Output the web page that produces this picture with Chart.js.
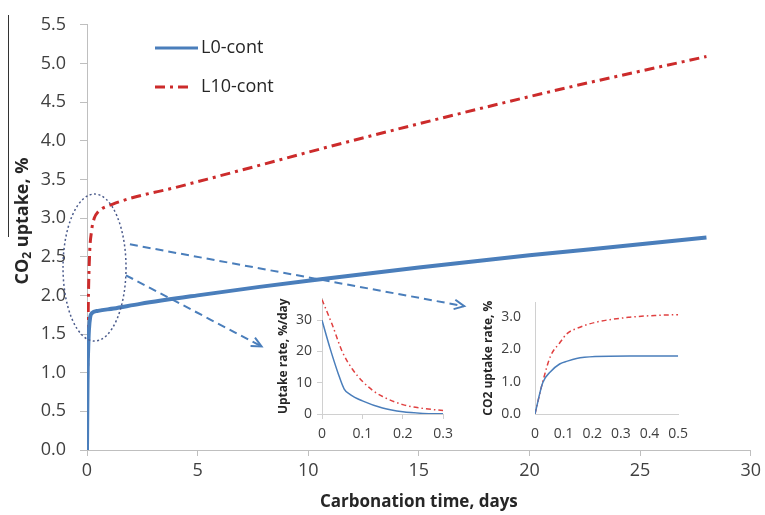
<!doctype html>
<html>
<head>
<meta charset="utf-8">
<title>CO2 uptake</title>
<script src="https://cdn.jsdelivr.net/npm/chart.js@4.4.0/dist/chart.umd.min.js"></script>
<style>
  body { margin: 0; background: #fff; }
  #wrap { position: relative; width: 765px; height: 515px; }
  #wrap canvas { position: absolute; }
</style>
</head>
<body>
<div id="wrap">
  <canvas id="main" width="765" height="515" style="left:0;top:0"></canvas>
  <canvas id="rate" width="190" height="160" style="left:270px;top:285px"></canvas>
  <canvas id="cum" width="230" height="165" style="left:470px;top:280px"></canvas>
</div>
<script>
// main chart - cumulative uptake over 28 days
var seriesNames = ['L0-cont', 'L10-cont'];
var daysL0   = [0, 0.027, 0.054, 0.086, 0.145, 0.22, 0.5, 1.2, 2.4, 5, 7.8, 10, 15, 20, 25, 28];
var uptakeL0 = [0, 0.97, 1.31, 1.55, 1.72, 1.77, 1.8, 1.83, 1.89, 2.0, 2.11, 2.19, 2.36, 2.52, 2.66, 2.75];
var daysL10   = [0, 0.027, 0.054, 0.113, 0.21, 0.33, 0.5, 1.17, 4.2, 7.5, 10.5, 15, 21.6, 28];
var uptakeL10 = [0, 1.0, 1.79, 2.5, 2.84, 3.0, 3.08, 3.18, 3.41, 3.66, 3.89, 4.22, 4.68, 5.09];
var xTicksMain = [0, 5, 10, 15, 20, 25, 30];
var yTicksMain = [0, 0.5, 1, 1.5, 2, 2.5, 3, 3.5, 4, 4.5, 5, 5.5];

// inset 1 - uptake rate, first 0.3 days
var rateDaysL0 = [0, 0.02, 0.04, 0.055, 0.07, 0.1, 0.15, 0.2, 0.25, 0.3];
var rateL0     = [30, 21, 13, 8, 6.2, 4.2, 1.9, 0.7, 0.2, 0.05];
var rateDaysL10 = [0, 0.025, 0.05, 0.075, 0.1, 0.125, 0.15, 0.2, 0.25, 0.3];
var rateL10     = [36.6, 28.7, 20, 14.4, 10.5, 7.6, 5.6, 3, 1.8, 1.1];
var xTicksRate = [0, 0.1, 0.2, 0.3];
var yTicksRate = [0, 10, 20, 30];

// inset 2 - uptake, first 0.5 days
var cumDays = [0, 0.027, 0.054, 0.086, 0.113, 0.145, 0.21, 0.33, 0.435, 0.5];
var cumL0   = [0, 0.97, 1.31, 1.55, 1.64, 1.72, 1.78, 1.8, 1.8, 1.8];
var cumL10  = [0, 1.0, 1.79, 2.2, 2.5, 2.65, 2.84, 3.0, 3.06, 3.08];
var xTicksCum = [0, 0.1, 0.2, 0.3, 0.4, 0.5];
var yTicksCum = [0, 1, 2, 3];

// callout: ellipse round the early rise, arrows to the insets (in data units)
var ringCenter = [0.34, 2.36];
var arrows = [
  [[1.94, 2.66], [17.05, 1.86]],
  [[1.76, 2.26], [7.89, 1.34]]
];

var BLUE = '#4a7ebb';
var RED = '#cc2b2b';
var FONT = 'Open Sans';

function pts(xs, ys) {
  return xs.map(function (x, i) { return {x: x, y: ys[i]}; });
}
function fixTicks(list) {
  return function (scale) { scale.ticks = list.map(function (v) { return {value: v}; }); };
}

var calloutPlugin = {
  id: 'callout',
  afterDatasetsDraw: function (chart) {
    var ctx = chart.ctx, xs = chart.scales.x, ys = chart.scales.y;
    ctx.save();
    ctx.strokeStyle = '#4b5b8c';
    ctx.lineWidth = 1.5;
    ctx.setLineDash([2, 2.5]);
    ctx.beginPath();
    ctx.ellipse(xs.getPixelForValue(ringCenter[0]), ys.getPixelForValue(ringCenter[1]), 31.5, 73.5, 0, 0, 2 * Math.PI);
    ctx.stroke();

    ctx.strokeStyle = BLUE;
    ctx.lineWidth = 2;
    arrows.forEach(function (a) {
      var x0 = xs.getPixelForValue(a[0][0]), y0 = ys.getPixelForValue(a[0][1]);
      var x1 = xs.getPixelForValue(a[1][0]), y1 = ys.getPixelForValue(a[1][1]);
      ctx.setLineDash([8, 5]);
      ctx.beginPath(); ctx.moveTo(x0, y0); ctx.lineTo(x1, y1); ctx.stroke();
      var ang = Math.atan2(y1 - y0, x1 - x0);
      ctx.setLineDash([]);
      ctx.beginPath();
      ctx.moveTo(x1 - 11 * Math.cos(ang - 0.45), y1 - 11 * Math.sin(ang - 0.45));
      ctx.lineTo(x1, y1);
      ctx.lineTo(x1 - 11 * Math.cos(ang + 0.45), y1 - 11 * Math.sin(ang + 0.45));
      ctx.stroke();
    });

    // legend inside the plot
    chart.data.datasets.forEach(function (ds, i) {
      var y = 48 + i * 39;
      ctx.strokeStyle = ds.borderColor;
      ctx.lineWidth = 3;
      ctx.setLineDash(ds.borderDash || []);
      ctx.beginPath(); ctx.moveTo(155, y); ctx.lineTo(i === 0 ? 198 : 192, y); ctx.stroke();
      ctx.setLineDash([]);
      ctx.fillStyle = '#262626';
      ctx.font = '18px "' + FONT + '"';
      ctx.textBaseline = 'middle';
      ctx.fillText(ds.label, 201, y);
    });

    // y axis title with a real subscript
    ctx.translate(23, 221);
    ctx.rotate(-Math.PI / 2);
    ctx.fillStyle = '#262626';
    ctx.textBaseline = 'middle';
    var big = 'bold 18px "' + FONT + '"', small = 'bold 12px "' + FONT + '"';
    ctx.font = big; var w1 = ctx.measureText('CO').width;
    ctx.font = small; var w2 = ctx.measureText('2').width;
    ctx.font = big; var w3 = ctx.measureText(' uptake, %').width;
    var x = -(w1 + w2 + w3) / 2;
    ctx.fillText('CO', x, 0);
    ctx.font = small; ctx.fillText('2', x + w1, 5);
    ctx.font = big; ctx.fillText(' uptake, %', x + w1 + w2, 0);
    ctx.setTransform(1, 0, 0, 1, 0, 0);

    // stray rule at the left of the axis title
    ctx.strokeStyle = '#333';
    ctx.lineWidth = 1;
    ctx.beginPath(); ctx.moveTo(8.5, 15); ctx.lineTo(8.5, 237); ctx.stroke();
    ctx.restore();
  }
};

new Chart(document.getElementById('main'), {
  type: 'line',
  data: {
    datasets: [{
      label: seriesNames[0],
      data: pts(daysL0, uptakeL0),
      borderColor: BLUE,
      borderWidth: 4,
      cubicInterpolationMode: 'monotone'
    }, {
      label: seriesNames[1],
      data: pts(daysL10, uptakeL10),
      borderColor: RED,
      borderWidth: 3,
      borderDash: [10, 5, 3, 5],
      cubicInterpolationMode: 'monotone'
    }]
  },
  options: {
    responsive: false,
    animation: false,
    layout: {padding: {top: 23, right: 13, left: 0, bottom: 0}},
    elements: {point: {radius: 0}},
    plugins: {legend: {display: false}, tooltip: {enabled: false}},
    scales: {
      x: {
        type: 'linear', min: 0, max: 30,
        afterBuildTicks: fixTicks(xTicksMain),
        afterFit: function (s) { s.height = 65; },
        grid: {drawOnChartArea: false, tickLength: 6, color: '#bfbfbf'},
        border: {color: '#bfbfbf'},
        ticks: {padding: 4, color: '#404040', font: {family: FONT, size: 18}},
        title: {display: true, text: 'Carbonation time, days', color: '#262626',
                padding: {top: 0, bottom: 3}, font: {family: FONT, size: 17, weight: 'bold'}}
      },
      y: {
        min: 0, max: 5.5,
        afterBuildTicks: fixTicks(yTicksMain),
        afterFit: function (s) { s.width = 87; },
        grid: {drawOnChartArea: false, tickLength: 7, color: '#bfbfbf'},
        border: {color: '#bfbfbf'},
        ticks: {padding: 14, color: '#404040', font: {family: FONT, size: 18},
                callback: function (v) { return v.toFixed(1); }}
      }
    }
  },
  plugins: [calloutPlugin]
});

function inset(id, o) {
  new Chart(document.getElementById(id), {
    type: 'line',
    data: {
      datasets: [{
        label: seriesNames[0], data: pts(o.x0, o.y0),
        borderColor: BLUE, borderWidth: 1.5, cubicInterpolationMode: 'monotone'
      }, {
        label: seriesNames[1], data: pts(o.x1, o.y1),
        borderColor: '#e04040', borderWidth: 1.5, borderDash: [5, 3, 1.5, 3],
        cubicInterpolationMode: 'monotone'
      }]
    },
    options: {
      responsive: false,
      animation: false,
      layout: {padding: {top: 13, right: o.padRight, left: 0, bottom: 0}},
      elements: {point: {radius: 0}},
      plugins: {legend: {display: false}, tooltip: {enabled: false}},
      scales: {
        x: {
          type: 'linear', min: 0, max: o.xMax,
          afterBuildTicks: fixTicks(o.xTicks),
          afterFit: function (s) { s.height = 31; },
          grid: {drawOnChartArea: false, drawTicks: o.marks, tickLength: 5, color: '#d0d0d0'},
          border: {color: '#d0d0d0'},
          ticks: {padding: o.marks ? 7 : 12, color: '#404040', font: {family: FONT, size: 14},
                  callback: function (v) { return v === 0 ? '0' : v.toFixed(1); }}
        },
        y: {
          min: 0, max: o.yMax,
          afterBuildTicks: fixTicks(o.yTicks),
          afterFit: function (s) { s.width = o.yWidth; },
          grid: {drawOnChartArea: false, drawTicks: o.marks, tickLength: 5, color: '#d0d0d0'},
          border: {color: '#d0d0d0'},
          ticks: {padding: o.marks ? 5 : 14, color: '#404040', font: {family: FONT, size: 14},
                  callback: o.yFmt},
          title: {display: true, text: o.yTitle, color: '#262626',
                  padding: {top: o.titlePad, bottom: 0}, font: {family: FONT, size: 12, weight: 'bold'}}
        }
      }
    }
  });
}

inset('rate', {
  x0: rateDaysL0, y0: rateL0, x1: rateDaysL10, y1: rateL10,
  xMax: 0.3, yMax: 37, xTicks: xTicksRate, yTicks: yTicksRate,
  yWidth: 52, padRight: 9, titlePad: 6, marks: true,
  yTitle: 'Uptake rate, %/day',
  yFmt: function (v) { return String(v); }
});

inset('cum', {
  x0: cumDays, y0: cumL0, x1: cumDays, y1: cumL10,
  xMax: 0.5, yMax: 3.46, xTicks: xTicksCum, yTicks: yTicksCum,
  yWidth: 65, padRight: 10, titlePad: 11, marks: false,
  yTitle: 'CO2 uptake rate, %',
  yFmt: function (v) { return v.toFixed(1); }
});
</script>
</body>
</html>
